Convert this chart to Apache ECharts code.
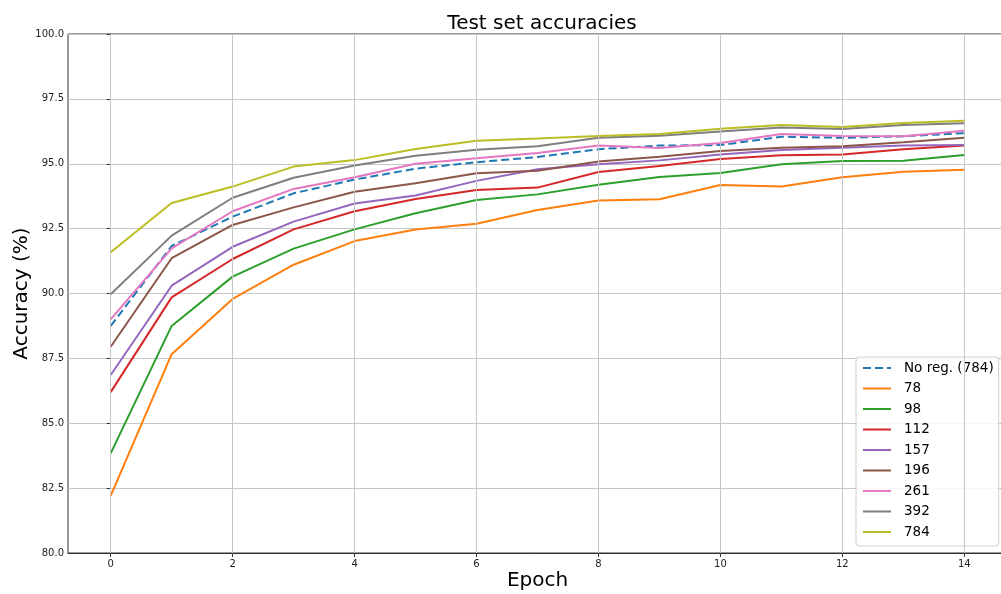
<!DOCTYPE html>
<html>
<head>
<meta charset="utf-8">
<script src="https://cdn.jsdelivr.net/npm/echarts@6/dist/echarts.min.js"></script>
<style>
  html, body { margin: 0; padding: 0; background: #fff; }
  #chart { width: 1001px; height: 594px; }
</style>
</head>
<body>
<div id="chart"></div>
<script>
// Epochs on the x axis
const epochs = [0, 1, 2, 3, 4, 5, 6, 7, 8, 9, 10, 11, 12, 13, 14];

// Tick positions
const xTicks = [0, 2, 4, 6, 8, 10, 12, 14];
const yTicks = [80, 82.5, 85, 87.5, 90, 92.5, 95, 97.5, 100];

// Series names (hidden-layer size)
const seriesNames = ['No reg. (784)', '78', '98', '112', '157', '196', '261', '392', '784'];

// Test accuracy (%) per epoch for each configuration
const noReg   = [88.75, 91.83, 92.96, 93.86, 94.39, 94.81, 95.06, 95.26, 95.56, 95.70, 95.72, 96.04, 96.00, 96.06, 96.18];
const acc78   = [82.20, 87.66, 89.79, 91.11, 92.02, 92.47, 92.69, 93.22, 93.58, 93.63, 94.18, 94.12, 94.48, 94.69, 94.77];
const acc98   = [83.84, 88.75, 90.65, 91.73, 92.47, 93.09, 93.60, 93.82, 94.19, 94.49, 94.64, 94.98, 95.11, 95.12, 95.34];
const acc112  = [86.20, 89.85, 91.33, 92.47, 93.17, 93.64, 93.99, 94.08, 94.68, 94.91, 95.18, 95.33, 95.36, 95.56, 95.70];
const acc157  = [86.86, 90.30, 91.80, 92.77, 93.47, 93.78, 94.34, 94.79, 94.98, 95.13, 95.36, 95.53, 95.62, 95.70, 95.72];
const acc196  = [87.95, 91.36, 92.64, 93.32, 93.92, 94.25, 94.63, 94.73, 95.09, 95.27, 95.49, 95.62, 95.67, 95.83, 96.00];
const acc261  = [89.00, 91.74, 93.17, 94.03, 94.48, 95.00, 95.21, 95.41, 95.70, 95.61, 95.80, 96.15, 96.07, 96.06, 96.27];
const acc392  = [89.97, 92.23, 93.69, 94.46, 94.93, 95.31, 95.54, 95.67, 96.00, 96.08, 96.24, 96.40, 96.34, 96.49, 96.56];
const acc784  = [91.59, 93.49, 94.12, 94.89, 95.14, 95.57, 95.89, 95.97, 96.07, 96.15, 96.35, 96.49, 96.42, 96.57, 96.66];

const seriesValues = [noReg, acc78, acc98, acc112, acc157, acc196, acc261, acc392, acc784];
const colors = ['#1f77b4', '#ff7f0e', '#2ca02c', '#d62728', '#9467bd', '#8c564b', '#e377c2', '#7f7f7f', '#bcbd22'];

const FONT = 'DejaVu Sans';
const gridColor = '#c6c6c6';

const series = seriesValues.map(function (vals, i) {
  return {
    name: seriesNames[i],
    type: 'line',
    data: vals.map(function (v, k) { return [epochs[k], v]; }),
    symbol: 'none',
    showSymbol: false,
    smooth: false,
    color: colors[i],
    lineStyle: {
      color: colors[i],
      width: 2,
      type: i === 0 ? [8, 4] : 'solid'
    },
    z: 3
  };
});

// Vertical grid lines at the x tick positions
series.unshift({
  name: '__xgrid',
  type: 'line',
  data: [],
  silent: true,
  z: 1,
  markLine: {
    silent: true,
    symbol: ['none', 'none'],
    label: { show: false },
    lineStyle: { color: gridColor, width: 1, type: 'solid' },
    emphasis: { disabled: true },
    animation: false,
    data: xTicks.map(function (t) { return { xAxis: t }; })
  }
});

const chart = echarts.init(document.getElementById('chart'), null, { renderer: 'canvas' });

chart.setOption({
  animation: false,
  backgroundColor: '#ffffff',
  textStyle: { fontFamily: FONT },
  title: {
    text: 'Test set accuracies',
    left: 537,
    top: 9,
    textAlign: 'center',
    textStyle: { fontFamily: FONT, fontSize: 20, fontWeight: 'normal', color: '#000' }
  },
  grid: {
    left: 68,
    top: 34,
    right: -6,
    bottom: 41,
    show: true,
    borderColor: '#333',
    borderWidth: 1,
    containLabel: false,
    outerBoundsMode: 'none'
  },
  legend: {
    data: seriesNames,
    orient: 'vertical',
    left: 856,
    top: 357,
    itemWidth: 28,
    itemHeight: 14,
    itemGap: 6.5,
    padding: [4, 5, 7, 6],
    backgroundColor: 'rgba(255,255,255,0.85)',
    borderColor: '#d0d0d0',
    borderWidth: 1,
    borderRadius: 3,
    itemStyle: { opacity: 0 },
    textStyle: { fontFamily: FONT, fontSize: 13.5, color: '#000', padding: [0, 0, 0, 8] }
  },
  xAxis: {
    type: 'value',
    min: -0.7,
    max: 14.7,
    name: 'Epoch',
    nameLocation: 'middle',
    nameGap: 18,
    nameMoveOverlap: false,
    nameTextStyle: { fontFamily: FONT, fontSize: 20, color: '#000', verticalAlign: 'top' },
    axisLine: { show: true, onZero: false, lineStyle: { color: '#333', width: 1 } },
    axisTick: { show: true, inside: false, length: 4, customValues: xTicks, lineStyle: { color: '#333' } },
    axisLabel: {
      customValues: xTicks,
      margin: 6,
      fontFamily: FONT,
      fontSize: 10,
      color: '#222',
      formatter: function (v) { return String(v); }
    },
    splitLine: { show: false }
  },
  yAxis: {
    type: 'value',
    min: 80,
    max: 100,
    interval: 2.5,
    name: 'Accuracy (%)',
    nameLocation: 'middle',
    nameGap: 36,
    nameMoveOverlap: false,
    nameTextStyle: { fontFamily: FONT, fontSize: 20, color: '#000' },
    axisLine: { show: true, lineStyle: { color: '#333', width: 1 } },
    axisTick: { show: true, inside: false, length: 4, lineStyle: { color: '#333' } },
    axisLabel: {
      margin: 4,
      fontFamily: FONT,
      fontSize: 10,
      color: '#222',
      formatter: function (v) { return v.toFixed(1); }
    },
    splitLine: { show: true, lineStyle: { color: gridColor, width: 1 } }
  },
  series: series
});
</script>
</body>
</html>
